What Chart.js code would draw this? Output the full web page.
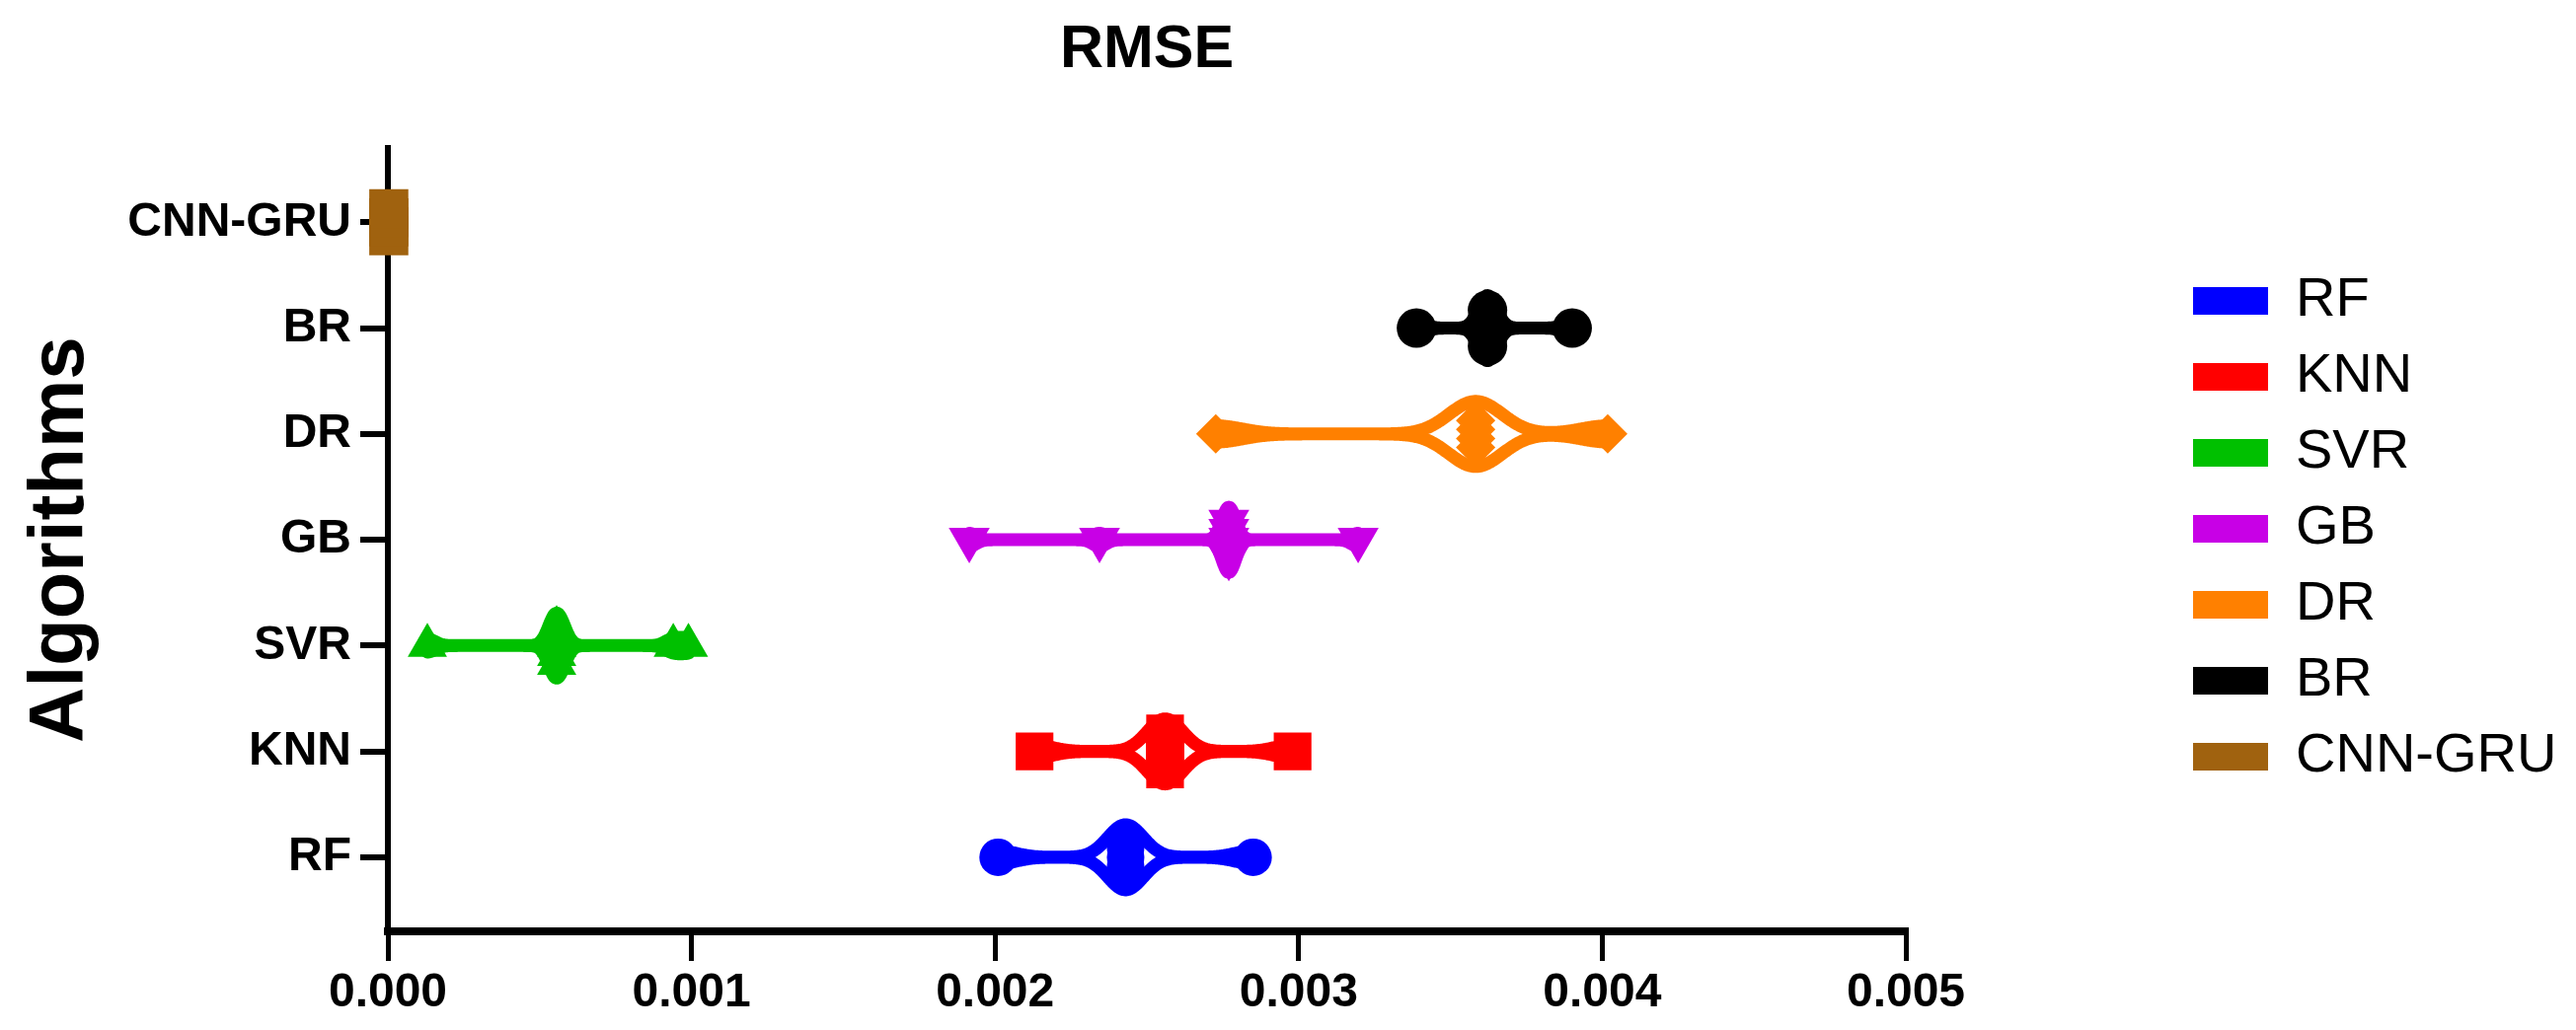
<!DOCTYPE html>
<html>
<head>
<meta charset="utf-8">
<title>RMSE</title>
<script src="https://cdn.jsdelivr.net/npm/chart.js@4.4.1/dist/chart.umd.min.js"></script>
<style>
  html, body { margin: 0; padding: 0; background: #fff; }
  #myChart { display: block; }
</style>
</head>
<body>
<canvas id="myChart" width="2610" height="1044"></canvas>
<script>
const algorithms = ['RF', 'KNN', 'SVR', 'GB', 'DR', 'BR', 'CNN-GRU'];

// RMSE values per model (repeated values sit stacked in the violin)
const rfValues = [0.00201, 0.00243, 0.00243, 0.00243, 0.00243, 0.00243, 0.00285];
const knnValues = [0.00213, 0.00256, 0.00256, 0.00256, 0.00256, 0.00256, 0.00298];
const svrValues = [0.00013, 0.000556, 0.000556, 0.000556, 0.000556, 0.000556, 0.00094, 0.00099];
const gbValues = [0.001915, 0.002344, 0.00277, 0.00277, 0.00277, 0.00277, 0.00277, 0.003196];
const drValues = [0.002727, 0.003583, 0.003583, 0.003583, 0.003583, 0.004018];
const brValues = [0.003388, 0.003622, 0.003622, 0.003622, 0.003622, 0.003622, 0.003901];
const cnnGruValues = [0.000003, 0.000003, 0.000003, 0.000003];

const xTicks = [0, 0.001, 0.002, 0.003, 0.004, 0.005];

const allValues = [rfValues, knnValues, svrValues, gbValues, drValues, brValues, cnnGruValues];

// look
const colors = ['#0000ff', '#ff0000', '#00c000', '#c800e6', '#ff8000', '#000000', '#a0620f'];
const markers = ['circle', 'rect', 'triangle', 'triangle', 'rectRot', 'circle', 'rect'];
const markerRot = [0, 0, 0, 180, 0, 0, 0];
const markerSize = [19, 27, 23, 24, 20, 20, 28];
const violinBw = [18, 18, 8, 7, 27, 9, 0];   // kernel width in px
const VIOLIN_H = 33;
const STACK_STEP = 0.085;
const FONT = "'Liberation Sans', Arial, Helvetica, sans-serif";

Chart.defaults.font.family = FONT;
Chart.defaults.color = '#000';

function stackPoints(values, row) {
    const count = {};
    values.forEach(v => count[v] = (count[v] || 0) + 1);
    const used = {};
    return values.map(v => {
        used[v] = used[v] === undefined ? 0 : used[v] + 1;
        return { x: v, y: row + (used[v] - (count[v] - 1) / 2) * STACK_STEP };
    });
}

const violins = {
    id: 'violins',
    beforeDatasetsDraw(chart) {
        const c = chart.ctx;
        const xs = chart.scales.x, ys = chart.scales.y;
        allValues.forEach((vals, i) => {
            const bw = violinBw[i];
            const lo = Math.min(...vals), hi = Math.max(...vals);
            if (!bw || hi <= lo) return;
            const px = vals.map(v => xs.getPixelForValue(v));
            const x0 = xs.getPixelForValue(lo), x1 = xs.getPixelForValue(hi);
            const yc = ys.getPixelForValue(i);
            const dens = [];
            for (let x = x0; x < x1 + 1; x++) {
                const xx = Math.min(x, x1);
                let d = 0;
                px.forEach(p => d += Math.exp(-0.5 * Math.pow((xx - p) / bw, 2)));
                dens.push([xx, d]);
            }
            const peak = Math.max(...dens.map(d => d[1]));
            c.save();
            c.beginPath();
            dens.forEach(([x, d], k) => {
                const y = yc - VIOLIN_H * d / peak;
                if (k) c.lineTo(x, y); else c.moveTo(x, y);
            });
            for (let k = dens.length - 1; k >= 0; k--) {
                c.lineTo(dens[k][0], yc + VIOLIN_H * dens[k][1] / peak);
            }
            c.closePath();
            c.lineWidth = 13;
            c.lineJoin = 'round';
            c.strokeStyle = colors[i];
            c.stroke();
            c.restore();
        });
    }
};

// legend sits far right, boxes at fixed place
const LEGEND_W = 679, LEGEND_LEFT = 2201, LEGEND_TOP = 256;
const legendPlacement = {
    id: 'legendPlacement',
    beforeLayout(chart) {
        const lg = chart.legend;
        if (lg && !lg.fixedFit) {
            const fit = lg.fit;
            lg.fit = function () { fit.call(this); this.width = LEGEND_W; };
            lg.fixedFit = true;
        }
    },
    afterLayout(chart) {
        const lg = chart.legend;
        if (!lg) return;
        lg.left = LEGEND_LEFT; lg.right = LEGEND_LEFT + lg.width;
        lg.top = LEGEND_TOP; lg.bottom = LEGEND_TOP + 1044;
    }
};

const ctx = document.getElementById('myChart');

new Chart(ctx, {
    type: 'scatter',
    data: {
        datasets: algorithms.map((name, i) => ({
            label: name,
            data: stackPoints(allValues[i], i),
            backgroundColor: colors[i],
            borderColor: colors[i],
            borderWidth: 0,
            pointStyle: markers[i],
            pointRotation: markerRot[i],
            pointRadius: markerSize[i],
            pointBorderWidth: 0,
            clip: false
        }))
    },
    options: {
        responsive: false,
        animation: false,
        events: [],
        layout: { padding: 0 },
        plugins: {
            tooltip: { enabled: false },
            title: {
                display: true,
                text: 'RMSE',
                fullSize: false,
                color: '#000',
                font: { size: 61, weight: 'bold', lineHeight: 1.2 },
                padding: { top: 15, bottom: 62 }
            },
            legend: {
                position: 'right',
                align: 'start',
                labels: {
                    color: '#000',
                    font: { size: 56 },
                    boxWidth: 76,
                    boxHeight: 28,
                    padding: 21,
                    generateLabels: (chart) => chart.data.datasets.map((ds, i) => ({
                        text: ds.label,
                        fillStyle: colors[i],
                        strokeStyle: colors[i],
                        lineWidth: 0,
                        hidden: false,
                        datasetIndex: i
                    }))
                }
            }
        },
        scales: {
            x: {
                type: 'linear',
                min: 0,
                max: 0.005,
                afterBuildTicks: (scale) => { scale.ticks = xTicks.map(v => ({ value: v })); },
                afterFit: (scale) => { scale.height = 100; },
                ticks: {
                    color: '#000',
                    padding: 4,
                    font: { size: 48, weight: 'bold', lineHeight: 1.2 },
                    callback: (v) => Number(v).toFixed(3)
                },
                grid: { drawOnChartArea: false, drawTicks: true, tickLength: 30, lineWidth: 5, color: '#000' },
                border: { display: true, color: '#000', width: 8 }
            },
            y: {
                type: 'linear',
                min: -0.7,
                max: 6.7,
                afterBuildTicks: (scale) => { scale.ticks = algorithms.map((_, i) => ({ value: i })); },
                afterFit: (scale) => { scale.width = 393; },
                ticks: {
                    color: '#000',
                    padding: 9,
                    font: { size: 48, weight: 'bold', lineHeight: 1.2 },
                    callback: (v) => algorithms[v]
                },
                grid: { drawOnChartArea: false, drawTicks: true, tickLength: 28, lineWidth: 6, color: '#000' },
                border: { display: true, color: '#000', width: 6 },
                title: {
                    display: true,
                    text: 'Algorithms',
                    color: '#000',
                    font: { size: 78, weight: 'bold', lineHeight: 1.2 },
                    padding: { top: 16, bottom: 0 }
                }
            }
        }
    },
    plugins: [violins, legendPlacement]
});
</script>
</body>
</html>
